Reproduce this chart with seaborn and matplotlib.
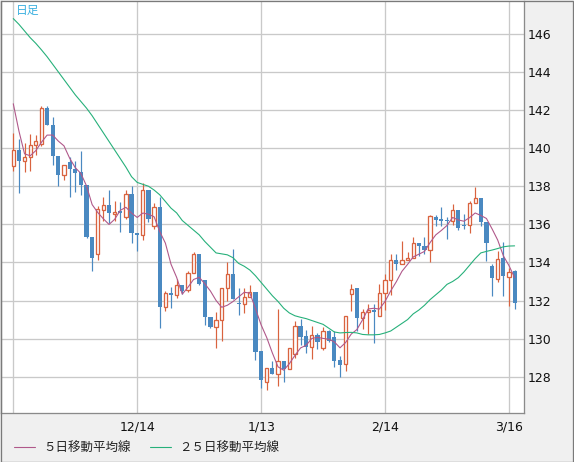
import numpy as np
import pandas as pd
import matplotlib
matplotlib.use("Agg")
import matplotlib.pyplot as plt
import seaborn as sns
from matplotlib.patches import Rectangle

# ---- data ----
opens = [139.07, 139.91, 139.33, 139.54, 140.17, 140.20, 142.11, 141.20, 139.61, 138.58,
         139.26, 138.93, 138.73, 138.09, 135.36, 134.45, 136.76, 137.04, 136.55, 136.69,
         136.41, 137.60, 135.57, 135.44, 137.82, 135.93, 136.93, 131.65, 132.40, 132.29,
         132.82, 132.56, 133.45, 134.45, 133.10, 131.16, 130.60, 130.98, 132.66, 133.40,
         131.89, 131.82, 132.21, 132.47, 129.34, 127.71, 128.47, 128.15, 128.85, 128.40,
         129.20, 130.67, 130.15, 129.55, 130.20, 129.52, 130.39, 130.07, 128.90, 128.67,
         132.35, 132.66, 131.09, 131.39, 131.51, 131.18, 132.40, 133.08, 134.13, 133.93,
         134.15, 134.24, 135.03, 134.88, 134.66, 136.41, 136.25, 136.25, 136.20, 136.76,
         135.99, 135.94, 137.13, 137.39, 136.13, 133.79, 133.12, 134.24, 133.26, 133.54]
highs = [140.82, 140.48, 140.27, 140.76, 140.69, 142.23, 142.22, 141.62, 139.61, 139.14,
         139.52, 139.35, 139.87, 138.09, 135.36, 136.98, 137.42, 137.82, 137.25, 137.16,
         137.82, 138.00, 135.57, 138.16, 137.82, 137.14, 137.46, 132.52, 132.70, 133.14,
         132.82, 133.57, 134.53, 134.45, 133.10, 131.16, 131.38, 132.66, 134.03, 134.73,
         132.66, 132.66, 132.84, 132.47, 129.34, 128.47, 128.85, 131.56, 128.85, 129.52,
         130.90, 131.04, 130.43, 130.67, 130.29, 130.60, 130.45, 130.42, 129.11, 131.21,
         132.87, 132.66, 131.56, 131.82, 131.82, 132.87, 133.40, 134.45, 134.45, 135.10,
         134.54, 135.32, 135.03, 135.32, 136.51, 136.51, 136.93, 136.37, 137.08, 136.76,
         136.55, 137.20, 137.95, 137.39, 136.13, 133.90, 134.60, 135.06, 133.72, 133.61]
lows = [138.79, 137.63, 138.73, 138.82, 139.64, 140.13, 141.20, 139.14, 138.00, 138.33,
        137.46, 137.68, 137.56, 135.30, 133.57, 134.13, 136.20, 136.09, 136.20, 135.58,
        136.27, 135.00, 134.62, 135.20, 136.10, 135.73, 130.56, 131.47, 131.61, 132.12,
        132.35, 132.45, 133.45, 132.80, 130.74, 130.55, 129.50, 129.86, 132.00, 132.09,
        131.26, 131.33, 132.21, 128.89, 127.40, 127.28, 128.15, 127.49, 127.71, 128.40,
        129.00, 129.69, 129.25, 128.94, 129.46, 129.40, 129.80, 128.50, 128.00, 128.32,
        131.47, 130.42, 130.51, 130.25, 129.76, 131.18, 131.51, 132.30, 133.60, 133.93,
        134.15, 134.24, 134.36, 134.45, 134.01, 135.90, 135.90, 135.24, 135.94, 135.71,
        135.76, 135.55, 137.13, 135.90, 134.07, 132.23, 132.96, 132.26, 131.69, 131.56]
closes = [139.91, 139.33, 139.56, 140.17, 140.38, 142.11, 141.20, 139.57, 138.58, 139.14,
          138.89, 138.70, 138.05, 135.32, 134.22, 136.81, 137.04, 136.58, 136.67, 136.58,
          137.60, 135.53, 135.43, 137.82, 136.28, 136.93, 131.65, 132.40, 132.28, 132.82,
          132.52, 133.45, 134.45, 132.87, 131.12, 130.60, 130.98, 132.66, 133.40, 132.09,
          131.82, 132.19, 132.47, 129.29, 127.84, 128.47, 128.15, 128.85, 128.41, 129.52,
          130.67, 130.11, 129.55, 130.20, 129.81, 130.39, 129.90, 128.85, 128.64, 131.21,
          132.61, 131.07, 131.39, 131.51, 131.39, 132.40, 133.08, 134.13, 133.93, 134.13,
          134.22, 135.03, 134.85, 134.66, 136.46, 136.23, 136.20, 136.16, 136.76, 135.80,
          135.90, 137.13, 137.39, 136.11, 135.01, 133.17, 134.19, 133.28, 133.52, 131.86]
ma5_head = [142.33, 140.90, 139.70, 139.60]
ma25 = [146.80, 146.50, 146.15, 145.80, 145.50, 145.16, 144.80, 144.40, 144.00, 143.60,
        143.20, 142.80, 142.45, 142.10, 141.70, 141.25, 140.80, 140.35, 139.90, 139.45,
        139.00, 138.50, 138.20, 138.10, 138.00, 137.80, 137.55, 137.20, 136.85, 136.60,
        136.20, 135.95, 135.70, 135.45, 135.10, 134.80, 134.50, 134.45, 134.40, 134.25,
        133.95, 133.80, 133.60, 133.30, 132.95, 132.60, 132.25, 131.95, 131.60, 131.35,
        131.20, 131.12, 131.05, 130.95, 130.85, 130.75, 130.55, 130.35, 130.30, 130.32,
        130.33, 130.30, 130.22, 130.20, 130.20, 130.22, 130.30, 130.40, 130.60, 130.80,
        131.00, 131.30, 131.50, 131.75, 132.05, 132.30, 132.55, 132.85, 133.00, 133.20,
        133.50, 133.85, 134.20, 134.50, 134.58, 134.65, 134.73, 134.82, 134.86, 134.87]
tick_pos = [0, 22, 44, 66, 88]
tick_labels = ["", "12/14", "1/13", "2/14", "3/16"]
y_ticks = [128, 130, 132, 134, 136, 138, 140, 142, 144, 146]
legend_labels = ["５日移動平均線", "２５日移動平均線"]

# ---- derived table ----
df = pd.DataFrame({"open": opens, "high": highs, "low": lows, "close": closes, "ma25": ma25})
df["idx"] = np.arange(len(df))
ma5 = df["close"].rolling(5).mean()
ma5.iloc[:len(ma5_head)] = ma5_head
df["ma5"] = ma5
up = df["close"] >= df["open"]

RED = "#d9633f"
BLUE = "#4a89c1"
PINK = "#b0588a"
GREEN = "#26b07a"
GRID = "#c9c9c9"
BG = "#f0f0f0"

sns.set_style("white")
plt.rcParams["font.family"] = ["DejaVu Sans", "Noto Sans CJK JP"]

W, H = 574, 462
fig = plt.figure(figsize=(W / 100, H / 100), dpi=100, facecolor=BG)
ax = fig.add_axes([0.5 / W, 1 - 412.5 / H, 523 / W, 412 / H])
ax.set_facecolor("white")

px = 1 * 72 / 100  # one pixel in points

# grid
ax.set_yticks(y_ticks)
ax.set_xticks(tick_pos)
ax.set_xticklabels(tick_labels)
ax.grid(True, color=GRID, linewidth=1.3 * px, zorder=0)
ax.set_axisbelow(True)

# wicks
for sel, col in ((up, RED), (~up, BLUE)):
    d = df[sel]
    ax.vlines(d["idx"], d["low"], d["high"], color=col, linewidth=1.2 * px, zorder=2)

# bodies
d = df[~up]
hgt = np.maximum((d["open"] - d["close"]).values, 0.06)
ax.bar(d["idx"], hgt, bottom=d["close"], width=0.74, color=BLUE, linewidth=0, zorder=3)
d = df[up]
hgt = np.maximum((d["close"] - d["open"]).values, 0.04)
ax.bar(d["idx"], hgt, bottom=d["open"], width=0.58, facecolor="white", edgecolor=RED,
       linewidth=1.3 * px, zorder=3)

# moving averages
sns.lineplot(data=df, x="idx", y="ma5", ax=ax, color=PINK, linewidth=1.1 * px,
             label=legend_labels[0], zorder=4, legend=False)
sns.lineplot(data=df, x="idx", y="ma25", ax=ax, color=GREEN, linewidth=1.1 * px,
             label=legend_labels[1], zorder=4, legend=False)

ax.set_xlim(-2.27, 90.58)
ax.set_ylim(147.75 - 412 / 19.05, 147.75)
ax.set_xlabel("")
ax.set_ylabel("")

ax.yaxis.tick_right()
ax.tick_params(axis="y", length=0, pad=3, labelsize=9, labelcolor="#111111")
ax.tick_params(axis="x", length=0, pad=6, labelsize=9, labelcolor="#111111")
for s in ("left", "bottom", "right"):
    ax.spines[s].set_color("#8a8a8a")
    ax.spines[s].set_linewidth(1.3 * px)
ax.spines["top"].set_visible(False)

# title label
fig.text(16 / W, 1 - 4 / H, "日足", color="#3bb0e0", fontsize=8.5, va="top", ha="left",
         family=["Noto Sans CJK JP", "DejaVu Sans"])

# legend
handles = ax.get_lines()[-2:]
leg = fig.legend(handles, legend_labels, loc="center left",
                 bbox_to_anchor=(14 / W, 1 - 448 / H), ncol=2, frameon=False,
                 fontsize=9, handlelength=1.7, handletextpad=0.65, columnspacing=1.5,
                 borderpad=0, borderaxespad=0,
                 prop={"family": ["Noto Sans CJK JP", "DejaVu Sans"], "size": 9})
for t in leg.get_texts():
    t.set_color("#222222")

# outer figure border
fig.patches.append(Rectangle((0.5 / W, 0.5 / H), 1 - 1.5 / W, 1 - 1.5 / H,
                             transform=fig.transFigure, fill=False,
                             edgecolor="#7a7a7a", linewidth=1.3 * px, zorder=10))

fig.savefig("out.png", dpi=100, facecolor=BG)
